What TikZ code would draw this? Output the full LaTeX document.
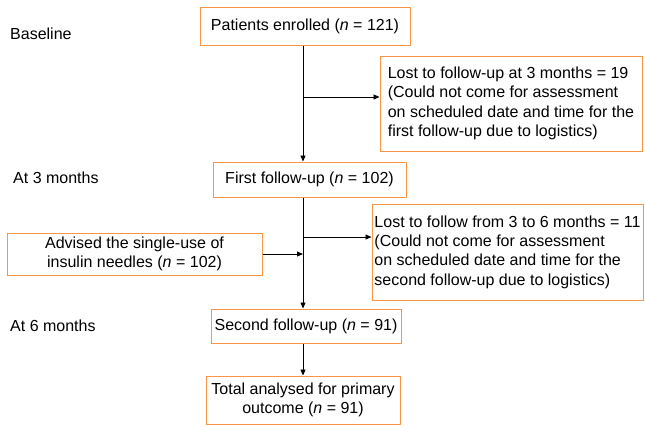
\documentclass[tikz,border=0pt]{standalone}
\usepackage{fontspec}
\setmainfont{Liberation Sans}
\usetikzlibrary{arrows.meta}
\definecolor{boxorange}{HTML}{F79646}
\begin{document}
\begin{tikzpicture}[x=1pt,y=-1pt,
  box/.style={draw=boxorange,line width=1pt,inner sep=0pt,font=\fontsize{16}{19.3}\selectfont,align=center},
  sidebox/.style={draw=boxorange,line width=1pt,inner sep=0pt,font=\fontsize{16}{19.3}\selectfont,align=left},
  lbl/.style={font=\fontsize{16}{19.3}\selectfont,anchor=west,inner sep=0pt},
  arr/.style={-{Triangle[length=6pt,width=5pt]},line width=0.9pt}]
\useasboundingbox (0,0) rectangle (645,426);

\node[box,minimum width=210pt,minimum height=38pt] (b1) at (305,26) {Patients enrolled (\textit{n} = 121)};
\node[sidebox,minimum width=262pt,minimum height=95pt] (l1) at (511,103.5) {Lost to follow-up at 3 months = 19\\(Could not come for assessment\\on scheduled date and time for the\\first follow-up due to logistics)};
\node[box,minimum width=193pt,minimum height=35pt] (b2) at (309.5,179.5) {First follow-up (\textit{n} = 102)};
\node[box,minimum width=255pt,minimum height=42pt] (adv) at (134.5,254) {Advised the single-use of\\insulin needles (\textit{n} = 102)};
\node[sidebox,minimum width=271pt,minimum height=96pt] (l2) at (507.5,252) {Lost to follow from 3 to 6 months = 11\\(Could not come for assessment\\on scheduled date and time for the\\second follow-up due to logistics)};
\node[box,minimum width=190pt,minimum height=34pt] (b3) at (306,326) {Second follow-up (\textit{n} = 91)};
\node[box,minimum width=194pt,minimum height=48pt] (b4) at (303,400) {Total analysed for primary\\outcome (\textit{n} = 91)};

\node[lbl] (t1) at (10,34) {Baseline};
\node[lbl] (t2) at (13,178) {At 3 months};
\node[lbl] (t3) at (10,326) {At 6 months};

\coordinate (tx) at (303,0);
\coordinate (j1) at (303,97);
\coordinate (j2) at (303,237);

\draw[arr] (b1.south -| tx) -- (b2.north -| tx);
\draw[arr] (j1) -- (j1 -| l1.west);
\draw[arr] (b2.south -| tx) -- (b3.north -| tx);
\draw[arr] (j2) -- (j2 -| l2.west);
\draw[arr] (adv.east) -- (adv.east -| tx);
\draw[arr] (b3.south -| tx) -- (b4.north -| tx);
\end{tikzpicture}
\end{document}
